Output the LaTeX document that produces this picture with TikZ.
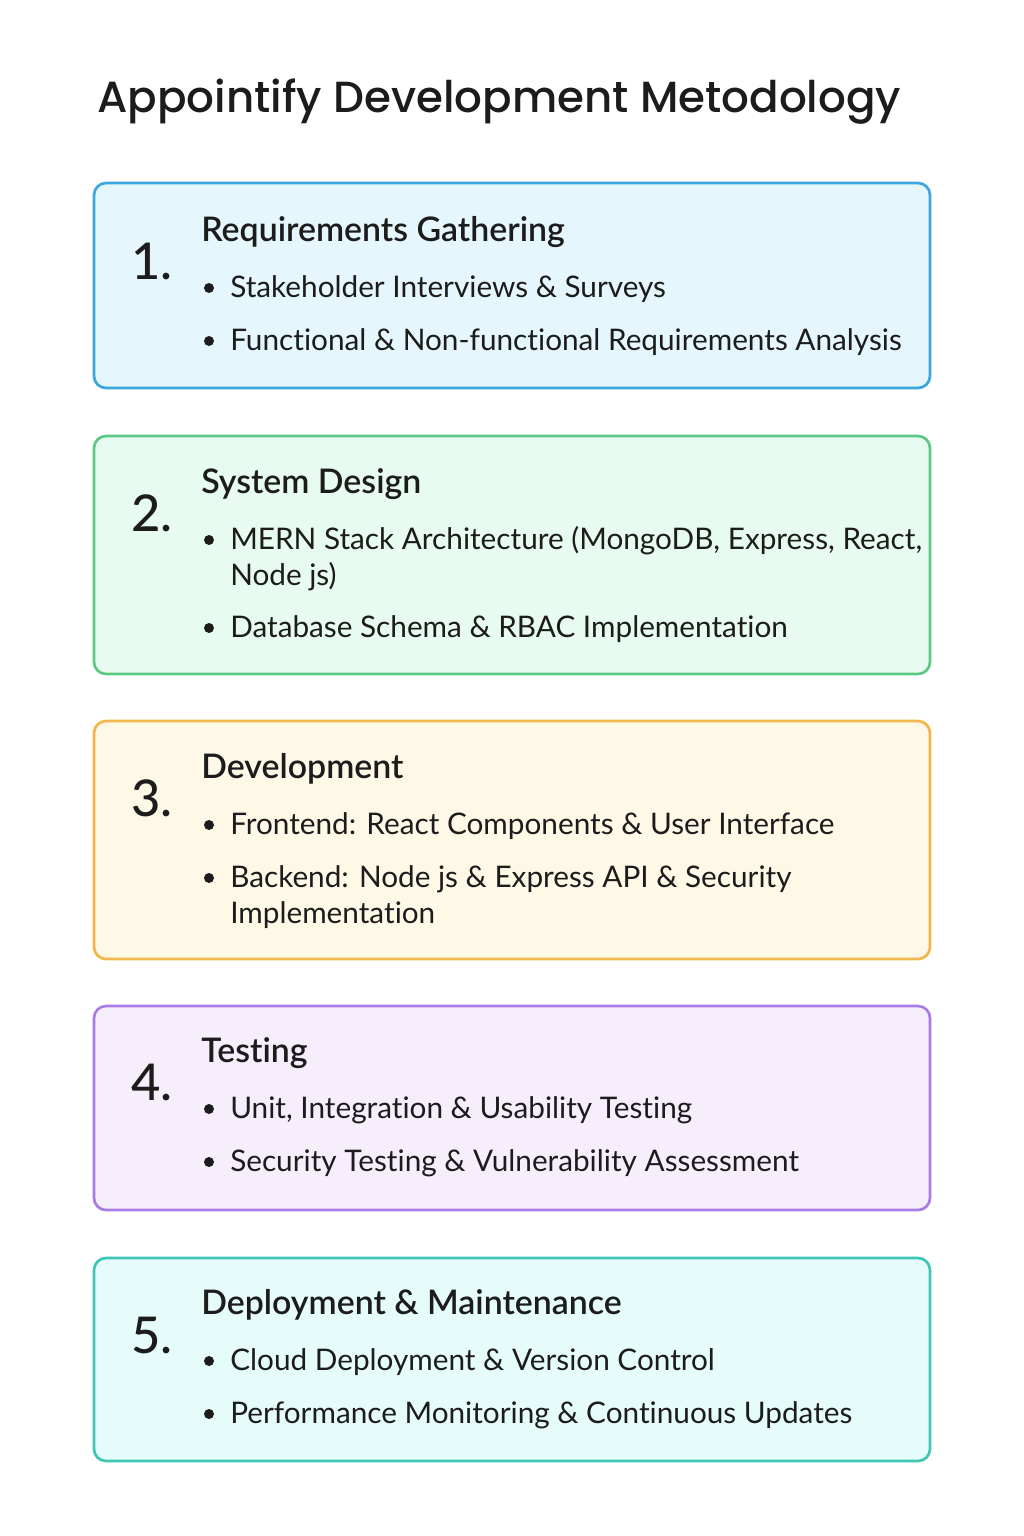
\documentclass[tikz,border=0pt]{standalone}
\usepackage{fontspec}
\setmainfont{Lato}[Ligatures=NoCommon]
\newfontfamily\titlefont{Poppins Medium}
\newfontfamily\headfont{Lato Semibold}[Ligatures=NoCommon]
\newfontfamily\numfont{Lato Medium}
\begin{document}
\begin{tikzpicture}[x=0.75pt,y=-0.75pt,
  stepnum/.style={anchor=base west, font=\numfont\fontsize{38}{40}\selectfont, text=ink, inner sep=0pt},
  stephead/.style={anchor=base west, font=\headfont\fontsize{25.4}{28}\selectfont, text=ink, inner sep=0pt},
  item/.style={anchor=base west, font=\fontsize{22.3}{26}\selectfont, text=ink, inner sep=0pt},
  dot/.style={circle, fill=ink, inner sep=0pt, minimum size=7.5pt},
  panel/.style={line width=2pt, rounded corners=9pt}
]
\definecolor{ink}{HTML}{1C1C1C}
\definecolor{bluebd}{HTML}{3BA7DE}\definecolor{bluebg}{HTML}{E5F6FD}
\definecolor{greenbd}{HTML}{5CC882}\definecolor{greenbg}{HTML}{E7FBF1}
\definecolor{orangebd}{HTML}{F2B74A}\definecolor{orangebg}{HTML}{FEF8E7}
\definecolor{purplebd}{HTML}{A97CE9}\definecolor{purplebg}{HTML}{F7EEFC}
\definecolor{tealbd}{HTML}{3EC5B6}\definecolor{tealbg}{HTML}{E6FCFB}

\useasboundingbox[fill=white] (0,0) rectangle (1024,1536);

\node[anchor=base west, inner sep=0pt, text=ink, font=\titlefont\fontsize{32.7}{36}\selectfont] (title) at (97,112) {Appointify Development Metodology};

% step 1
\draw[panel, draw=bluebd, fill=bluebg] (94,183) rectangle (930,388);
\node[stepnum] (n1) at (131,279) {1.};
\node[stephead] (h1) at (201,241) {Requirements Gathering};
\node[dot] (d1a) at (209,288) {};
\node[item] (b1a) at (230,297) {Stakeholder Interviews \& Surveys};
\node[dot] (d1b) at (209,341) {};
\node[item] (b1b) at (230,350) {Functional \& Non-functional Requirements Analysis};

% step 2
\draw[panel, draw=greenbd, fill=greenbg] (94,436) rectangle (930,674);
\node[stepnum] (n2) at (131,531) {2.};
\node[stephead] (h2) at (201,493) {System Design};
\node[dot] (d2a) at (209,540) {};
\node[item] (b2a) at (230,549) {MERN Stack Architecture (MongoDB, Express, React,};
\node[item] (b2a2) at (230,585) {Node js)};
\node[dot] (d2b) at (209,628) {};
\node[item] (b2b) at (230,637) {Database Schema \& RBAC Implementation};

% step 3
\draw[panel, draw=orangebd, fill=orangebg] (94,721) rectangle (930,959);
\node[stepnum] (n3) at (131,816) {3.};
\node[stephead] (h3) at (201,778) {Development};
\node[dot] (d3a) at (209,825) {};
\node[item] (b3a) at (230,834) {Frontend: React Components \& User Interface};
\node[dot] (d3b) at (209,878) {};
\node[item] (b3b) at (230,887) {Backend: Node js \& Express API \& Security};
\node[item] (b3b2) at (230,923) {Implementation};

% step 4
\draw[panel, draw=purplebd, fill=purplebg] (94,1006) rectangle (930,1210);
\node[stepnum] (n4) at (131,1100) {4.};
\node[stephead] (h4) at (201,1062) {Testing};
\node[dot] (d4a) at (209,1109) {};
\node[item] (b4a) at (230,1118) {Unit, Integration \& Usability Testing};
\node[dot] (d4b) at (209,1162) {};
\node[item] (b4b) at (230,1171) {Security Testing \& Vulnerability Assessment};

% step 5
\draw[panel, draw=tealbd, fill=tealbg] (94,1258) rectangle (930,1461);
\node[stepnum] (n5) at (131,1353) {5.};
\node[stephead] (h5) at (201,1314) {Deployment \& Maintenance};
\node[dot] (d5a) at (209,1361) {};
\node[item] (b5a) at (230,1370) {Cloud Deployment \& Version Control};
\node[dot] (d5b) at (209,1414) {};
\node[item] (b5b) at (230,1423) {Performance Monitoring \& Continuous Updates};
\end{tikzpicture}
\end{document}
